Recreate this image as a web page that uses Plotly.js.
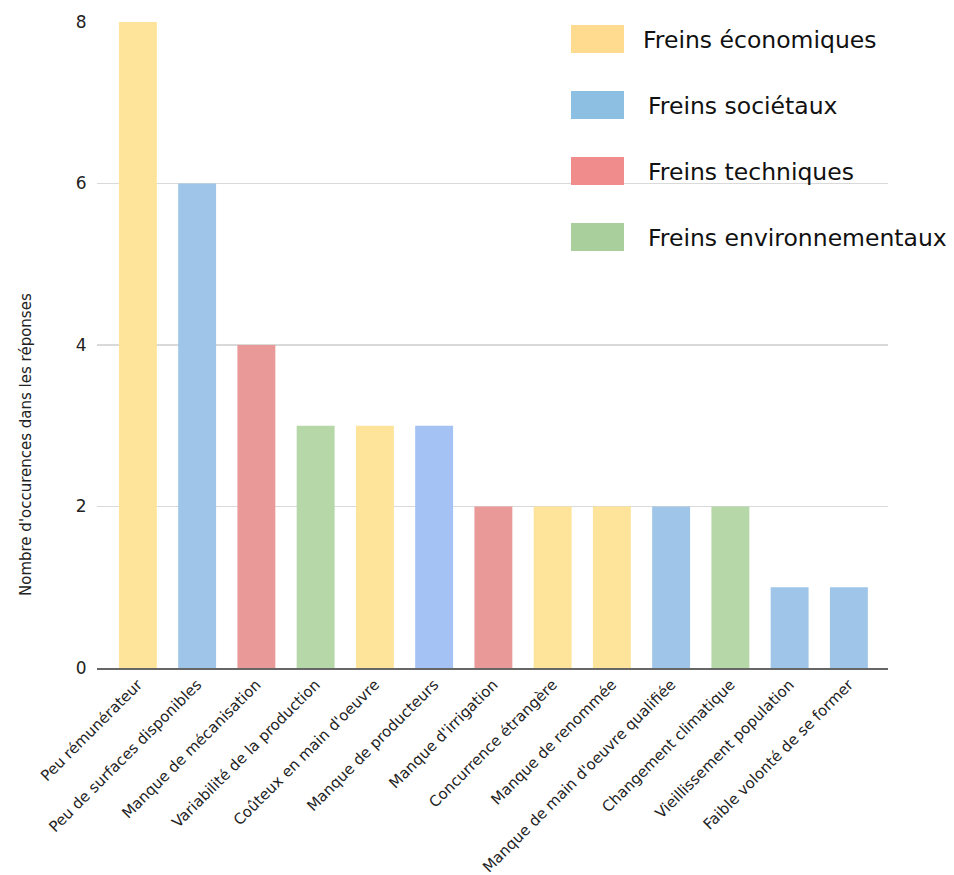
<!DOCTYPE html>
<html>
<head>
<meta charset="utf-8">
<script src="https://cdn.plot.ly/plotly-3.0.1.min.js"></script>
<style>html,body{margin:0;padding:0;background:#fff}#chart{width:954px;height:875px}</style>
</head>
<body>
<div id="chart"></div>
<script>
const categories = [
  "Peu rémunérateur",
  "Peu de surfaces disponibles",
  "Manque de mécanisation",
  "Variabilité de la production",
  "Coûteux en main d'oeuvre",
  "Manque de producteurs",
  "Manque d'irrigation",
  "Concurrence étrangère",
  "Manque de renommée",
  "Manque de main d'oeuvre qualifiée",
  "Changement climatique",
  "Vieillissement population",
  "Faible volonté de se former"
];
const values = [8, 6, 4, 3, 3, 3, 2, 2, 2, 2, 2, 1, 1];
const barColors = [
  "#fee49a", "#9fc5e8", "#ea9999", "#b6d7a8", "#fee49a", "#a4c2f4", "#ea9999",
  "#fee49a", "#fee49a", "#9fc5e8", "#b6d7a8", "#9fc5e8", "#9fc5e8"
];
const legendLabels = ["Freins économiques", "Freins sociétaux", "Freins techniques", "Freins environnementaux"];
const legendColors = ["#fedb8e", "#8dbfe3", "#f08c8c", "#a9cf9d"];
const yTicks = [0, 2, 4, 6, 8];
const yTitle = "Nombre d'occurences dans les réponses";

const FONT = "DejaVu Sans, Verdana, sans-serif";

const trace = {
  type: "bar",
  x: categories,
  y: values,
  marker: {color: barColors, line: {width: 0}},
  showlegend: false,
  hoverinfo: "x+y"
};

const shapes = [];
const annotations = [];
const W = 954, H = 875, mL = 97, mR = 66, mT = 22, mB = 207;
const pw = W - mL - mR, ph = H - mT - mB;
function px(x){return (x - mL) / pw;}
function py(y){return (H - mB - y) / ph;}
legendLabels.forEach((lab, i) => {
  const cy = 39 + i * 66;
  shapes.push({
    type: "rect", xref: "paper", yref: "paper",
    x0: px(571), x1: px(624), y0: py(cy - 14), y1: py(cy + 14),
    fillcolor: legendColors[i], line: {width: 0}
  });
  annotations.push({
    xref: "paper", yref: "paper", x: px(i === 0 ? 641 : 646), y: py(cy + 1),
    xanchor: "left", yanchor: "middle", showarrow: false,
    text: lab, font: {size: 23.5, color: "#111", family: FONT}
  });
});
annotations.push({
  xref: "paper", yref: "paper", x: px(26), y: py(445),
  xanchor: "center", yanchor: "middle", showarrow: false, textangle: -90,
  text: yTitle, font: {size: 15, color: "#222", family: FONT}
});

const layout = {
  width: W, height: H,
  margin: {l: mL, r: mR, t: mT, b: mB},
  paper_bgcolor: "#fff", plot_bgcolor: "#fff",
  font: {family: FONT, color: "#222"},
  bargap: 0.36,
  xaxis: {
    type: "category",
    range: [-0.69, 12.66],
    tickangle: -45,
    tickfont: {size: 15, color: "#222", family: FONT},
    showgrid: false,
    showline: true, linecolor: "#666", linewidth: 2,
    ticks: "", automargin: false
  },
  yaxis: {
    range: [0, 8],
    tickvals: yTicks,
    tickfont: {size: 17, color: "#222", family: FONT},
    gridcolor: "#d9d9d9", gridwidth: 1.2,
    zeroline: false,
    ticks: "outside", ticklen: 6, tickcolor: "rgba(0,0,0,0)",
    automargin: false
  },
  shapes: shapes,
  annotations: annotations
};

Plotly.newPlot("chart", [trace], layout, {displayModeBar: false, staticPlot: true});
</script>
</body>
</html>
